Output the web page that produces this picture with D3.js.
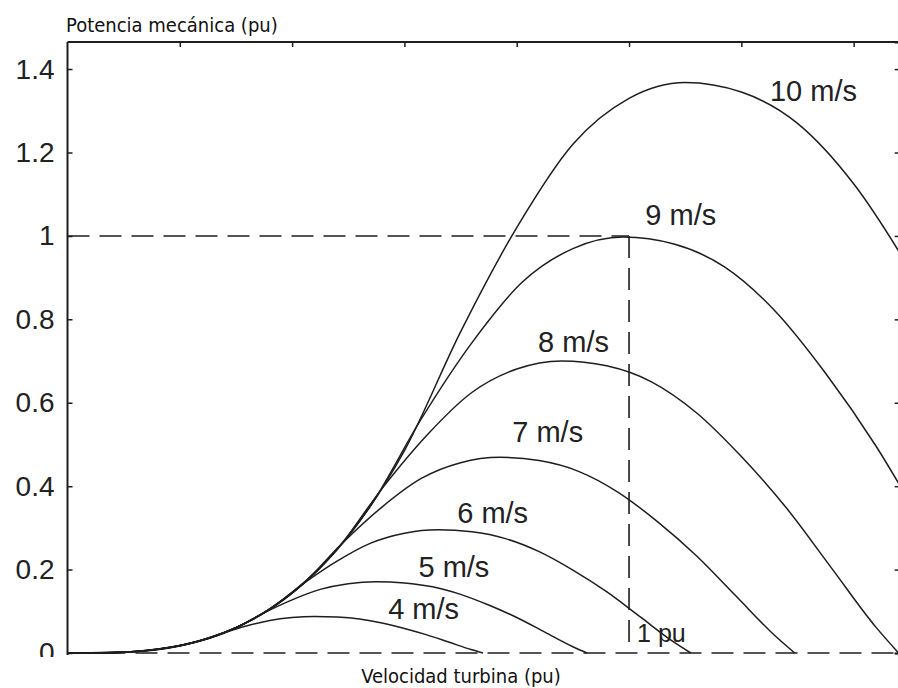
<!DOCTYPE html>
<html>
<head>
<meta charset="utf-8">
<script src="https://cdn.jsdelivr.net/npm/d3@7"></script>
<style>
  body { margin: 0; background: #fff; }
  #chart svg { display: block; }
</style>
</head>
<body>
<div id="chart"></div>
<script>
// values (pu)
const speedLabels = ['4 m/s', '5 m/s', '6 m/s', '7 m/s', '8 m/s', '9 m/s', '10 m/s'];

const x4 = [0, .04, .08, .12, .16, .2, .24, .28, .32, .36, .40, .44, .48, .52, .56, .60, .64, .68, .72, .74];
const y4 = [0, .0001, .0011, .0038, .0093, .0179, .031, .0493, .0653, .0781, .0851, .0876, .0861, .0813, .0720, .0589, .0435, .0256, .0077, 0];

const x5 = [0, .05, .1, .15, .2, .25, .3, .35, .4, .45, .5, .55, .6, .65, .7, .75, .8, .85, .9, .925];
const y5 = [0, .0003, .0021, .0075, .0181, .035, .0606, .0963, .1275, .1525, .1663, .171, .1681, .1588, .1406, .115, .085, .05, .015, 0];

const x6 = [0, .06, .12, .18, .24, .3, .36, .42, .48, .54, .6, .66, .72, .78, .84, .9, .96, 1.02, 1.08, 1.11];
const y6 = [0, .0004, .0037, .013, .0313, .0605, .1048, .1663, .2203, .2635, .2873, .2955, .2905, .2743, .243, .1987, .1469, .0864, .0259, 0];

const x7 = [0, .07, .14, .21, .28, .35, .42, .49, .56, .63, .7, .77, .84, .91, .98, 1.05, 1.12, 1.19, 1.26, 1.295];
const y7 = [0, .0007, .0058, .0206, .0497, .096, .1664, .2641, .3499, .4185, .4562, .4692, .4613, .4356, .3859, .3156, .2332, .1372, .0412, 0];

const x8 = [0, .08, .16, .24, .32, .4, .48, .56, .64, .72, .8, .88, .96, 1.04, 1.12, 1.2, 1.28, 1.36, 1.44, 1.48];
const y8 = [0, .001, .0087, .0307, .0742, .1434, .2483, .3942, .5222, .6246, .681, .7004, .6886, .6502, .576, .471, .3482, .2048, .0614, 0];

const x9 = [0, .09, .18, .27, .36, .45, .54, .63, .72, .81, .9, .99, 1.08, 1.17, 1.26, 1.35, 1.44, 1.53, 1.62, 1.665];
const y9 = [0, .0015, .0124, .0437, .1057, .2041, .3536, .5613, .7436, .8894, .9696, .9973, .9805, .9258, .8201, .6707, .4957, .2916, .0875, 0];

const x10 = [0, .1, .2, .3, .4, .5, .6, .7, .8, .9, 1.0, 1.1, 1.2, 1.3, 1.4, 1.5, 1.6, 1.7, 1.8, 1.85];
const y10 = [0, .002, .017, .06, .145, .28, .485, .77, 1.02, 1.22, 1.33, 1.368, 1.345, 1.27, 1.125, .92, .68, .40, .12, 0];

const yTicks = [0, 0.2, 0.4, 0.6, 0.8, 1, 1.2, 1.4];
const yTickLabels = ['0', '0.2', '0.4', '0.6', '0.8', '1', '1.2', '1.4'];
const xTicks = [0.2, 0.4, 0.6, 0.8, 1, 1.2, 1.4];

// where each curve label sits (pu coords of its left baseline)
const labelX = [0.571, 0.625, 0.694, 0.792, 0.838, 1.029, 1.251];
const labelY = [0.082, 0.182, 0.312, 0.506, 0.722, 1.026, 1.324];

const ratedSpeed = 1;
const ratedPower = 1;

const width = 898;
const height = 688;
const m = {t: 42, l: 67.5};

const svg = d3.select('#chart')
  .append('svg')
  .attr('width', width)
  .attr('height', height);

const x = d3.scaleLinear().domain([0, 1.482]).range([m.l, 899.7]);
const y = d3.scaleLinear().domain([0, 1.465]).range([653, m.t]);

const defs = svg.append('defs');
defs.append('clipPath')
  .attr('id', 'plot-clip')
  .append('rect')
  .attr('x', x(0)).attr('y', y(1.465))
  .attr('width', x(1.482) - x(0)).attr('height', y(0) - y(1.465) + 3);

// the bottom of the y labels is cut off in the original
defs.append('clipPath')
  .attr('id', 'label-clip')
  .append('rect')
  .attr('x', -m.l).attr('y', 0).attr('width', m.l + 10).attr('height', 657);

const ink = '#1e1e1e';
const tickFont = 'Liberation Sans, Arial, sans-serif';
const titleFont = 'DejaVu Sans Condensed, DejaVu Sans, sans-serif';

// dashed guides
const guides = svg.append('g')
  .attr('stroke', ink)
  .attr('stroke-width', 1.6)
  .attr('stroke-dasharray', '22,10')
  .attr('fill', 'none');

guides.append('line')
  .attr('x1', x(0) + 4).attr('x2', x(1.482))
  .attr('y1', y(0)).attr('y2', y(0));
guides.append('line')
  .attr('x1', x(0)).attr('x2', x(ratedSpeed))
  .attr('y1', y(ratedPower)).attr('y2', y(ratedPower));
guides.append('line')
  .attr('x1', x(ratedSpeed)).attr('x2', x(ratedSpeed))
  .attr('y1', y(ratedPower)).attr('y2', y(0.026));

// curves
const series = [[x4, y4], [x5, y5], [x6, y6], [x7, y7], [x8, y8], [x9, y9], [x10, y10]]
  .map(([xs, ys]) => xs.map((v, i) => ({x: v, y: ys[i]})));

const line = d3.line()
  .x(d => x(d.x))
  .y(d => y(d.y))
  .curve(d3.curveMonotoneX);

svg.append('g')
  .attr('clip-path', 'url(#plot-clip)')
  .selectAll('.curve')
  .data(series)
  .enter()
  .append('path')
  .attr('class', 'curve')
  .attr('d', line)
  .attr('fill', 'none')
  .attr('stroke', ink)
  .attr('stroke-width', 1.5);

// curve labels
svg.append('g')
  .selectAll('text')
  .data(speedLabels)
  .enter()
  .append('text')
  .attr('x', (d, i) => x(labelX[i]))
  .attr('y', (d, i) => y(labelY[i]))
  .attr('font-family', tickFont)
  .attr('font-size', 29)
  .attr('fill', '#222')
  .text(d => d);

svg.append('text')
  .attr('x', x(ratedSpeed) + 8)
  .attr('y', 642)
  .attr('font-family', tickFont)
  .attr('font-size', 25)
  .attr('fill', '#222')
  .text('1 pu');

// axes
const axisLeft = d3.axisLeft(y)
  .tickValues(yTicks)
  .tickSize(-5)
  .tickPadding(13)
  .tickFormat((d, i) => yTickLabels[i]);

const axisTop = d3.axisTop(x)
  .tickValues(xTicks)
  .tickSize(-5)
  .tickFormat('');

const axisRight = d3.axisRight(y)
  .tickValues(yTicks)
  .tickSize(-5)
  .tickFormat('');

const gLeft = svg.append('g')
  .attr('transform', `translate(${m.l},0)`)
  .attr('clip-path', 'url(#label-clip)')
  .call(axisLeft);
gLeft.select('.domain').attr('d', `M0,${y(0) + 2}V${m.t}`);
gLeft.selectAll('text')
  .attr('font-family', tickFont)
  .attr('font-size', 28)
  .attr('fill', '#222');

const gTop = svg.append('g')
  .attr('transform', `translate(0,${m.t})`)
  .call(axisTop);
gTop.select('.domain').attr('d', `M${m.l},0H${width + 2}`);

svg.append('g')
  .attr('transform', `translate(${x(1.482)},0)`)
  .call(axisRight);

svg.selectAll('.domain').attr('stroke', ink).attr('stroke-width', 2);
svg.selectAll('.tick line').attr('stroke', ink).attr('stroke-width', 1.5);

// titles
svg.append('text')
  .attr('x', 66)
  .attr('y', 32)
  .attr('font-family', titleFont)
  .attr('font-size', 20)
  .attr('fill', '#111')
  .text('Potencia mecánica (pu)');

svg.append('text')
  .attr('x', 461)
  .attr('y', 683)
  .attr('text-anchor', 'middle')
  .attr('font-family', titleFont)
  .attr('font-size', 20)
  .attr('fill', '#111')
  .text('Velocidad turbina (pu)');
</script>
</body>
</html>
